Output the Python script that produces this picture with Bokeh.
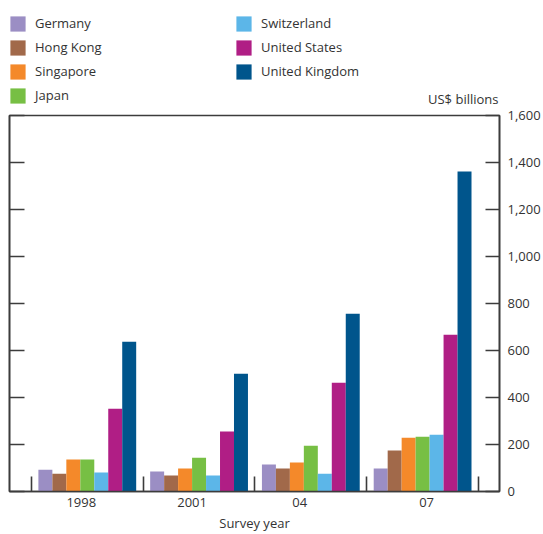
from bokeh.plotting import figure
from bokeh.layouts import column
from bokeh.models import (ColumnDataSource, Range1d, LinearAxis, FixedTicker,
                          Legend, LegendItem, Label)
from bokeh.transform import dodge
from bokeh.embed import file_html
from bokeh.resources import INLINE

years = ["1998", "2001", "04", "07"]
countries = ["Germany", "Hong Kong", "Singapore", "Japan",
             "Switzerland", "United States", "United Kingdom"]
germany = [93, 85, 115, 98]
hong_kong = [76, 68, 98, 174]
singapore = [136, 98, 123, 229]
japan = [136, 144, 195, 233]
switzerland = [81, 68, 76, 242]
united_states = [352, 255, 463, 667]
united_kingdom = [637, 501, 756, 1362]
y_ticks = [0, 200, 400, 600, 800, 1000, 1200, 1400, 1600]

series = [germany, hong_kong, singapore, japan, switzerland,
          united_states, united_kingdom]
colors = ["#9b8ec4", "#a1694a", "#f4892a", "#77bf44", "#5cb6e8",
          "#b01e85", "#00558c"]

FONT = "Open Sans"
TXT = "#333333"
LINE = "#3c3c3c"

data = {"xc": [i + 0.5 for i in range(len(years))]}
keys = []
for i, s in enumerate(series):
    k = "s%d" % i
    keys.append(k)
    data[k] = s
src = ColumnDataSource(data)

LEG_H = 106
bw = 0.125

# ---- legend strip (frame is aligned with the chart frame: x 9..499) ----
# its bar renderers only feed the legend swatches; the ranges keep them out of view
lg = figure(width=543, height=LEG_H, output_backend="svg", toolbar_location=None,
            x_range=Range1d(100, 101), y_range=Range1d(5000, 6000),
            x_axis_location=None, y_axis_location=None,
            min_border_left=9, min_border_right=44,
            min_border_top=0, min_border_bottom=0)
lg.grid.visible = False
lg.outline_line_color = None
lg_renderers = []
for i, k in enumerate(keys):
    r = lg.vbar(x=dodge("xc", (i - 3) * bw, range=lg.x_range), top=k, bottom=0,
                width=bw, source=src, fill_color=colors[i], line_color=None)
    lg_renderers.append(r)
items = [LegendItem(label=c, renderers=[r], index=0)
         for c, r in zip(countries, lg_renderers)]
legend = Legend(items=items, location=(-1, LEG_H - 104.5), orientation="vertical",
                nrows=4, glyph_width=19, glyph_height=19, label_standoff=8,
                label_width=194, label_height=19, spacing=5, padding=0,
                margin=0, border_line_color=None, background_fill_alpha=0,
                label_text_font=FONT, label_text_font_size="13px",
                label_text_color=TXT)
lg.add_layout(legend, "center")
lg.add_layout(Label(x=489, y=LEG_H - 98, x_units="screen", y_units="screen",
                    text="US$ billions", text_align="right", text_baseline="middle",
                    text_font=FONT, text_font_size="13px", text_color=TXT))

# ---- main chart ----
p = figure(width=543, height=534 - LEG_H, output_backend="svg", toolbar_location=None,
           x_range=Range1d(-0.196, 4.188), y_range=Range1d(0, 1600),
           x_axis_location=None, y_axis_location=None,
           min_border_left=9, min_border_right=44, min_border_top=115 - LEG_H,
           min_border_bottom=42)
p.grid.visible = False
p.outline_line_color = LINE
p.outline_line_width = 1.6
p.background_fill_color = "white"
p.border_fill_color = "white"

for i, k in enumerate(keys):
    off = (i - 3) * bw
    p.vbar(x=dodge("xc", off, range=p.x_range), top=k, width=bw,
           bottom=0, source=src, fill_color=colors[i], line_color=None)

# bottom axis
label_pos = [0.446, 1.4375, 2.40, 3.536]
xaxis = LinearAxis(ticker=FixedTicker(ticks=label_pos, minor_ticks=[0, 1, 2, 3, 4]))
xaxis.major_label_overrides = {pos: y for pos, y in zip(label_pos, years)}
xaxis.major_tick_in = 0
xaxis.major_tick_out = 0
xaxis.minor_tick_in = 15
xaxis.minor_tick_out = 0
xaxis.minor_tick_line_color = LINE
xaxis.minor_tick_line_width = 1.6
xaxis.axis_line_color = LINE
xaxis.axis_line_width = 1.6
xaxis.major_label_text_font = FONT
xaxis.major_label_text_font_size = "13px"
xaxis.major_label_text_color = TXT
xaxis.major_label_standoff = 6
xaxis.axis_label = "Survey year"
xaxis.axis_label_text_font = FONT
xaxis.axis_label_text_font_size = "13px"
xaxis.axis_label_text_font_style = "normal"
xaxis.axis_label_text_color = TXT
xaxis.axis_label_standoff = 4
p.add_layout(xaxis, "below")

# right axis
yaxis = LinearAxis(ticker=FixedTicker(ticks=y_ticks, minor_ticks=[]))
yaxis.major_label_overrides = {t: "{:,}".format(t) for t in y_ticks}
yaxis.major_tick_in = 14
yaxis.major_tick_out = 0
yaxis.major_tick_line_color = LINE
yaxis.major_tick_line_width = 1.6
yaxis.axis_line_color = LINE
yaxis.axis_line_width = 1.6
yaxis.major_label_text_font = FONT
yaxis.major_label_text_font_size = "13px"
yaxis.major_label_text_color = TXT
yaxis.major_label_text_align = "right"
yaxis.major_label_standoff = 8
p.add_layout(yaxis, "right")

# left ticks (no labels)
laxis = LinearAxis(ticker=FixedTicker(ticks=y_ticks, minor_ticks=[]))
laxis.major_label_text_alpha = 0
laxis.major_label_text_font_size = "1px"
laxis.major_label_standoff = 0
laxis.major_tick_in = 15
laxis.major_tick_out = 0
laxis.major_tick_line_color = LINE
laxis.major_tick_line_width = 1.6
laxis.axis_line_color = LINE
laxis.axis_line_width = 1.6
p.add_layout(laxis, "left")

layout = column(lg, p, spacing=0)
open("out.html", "w").write(file_html(layout, INLINE))
